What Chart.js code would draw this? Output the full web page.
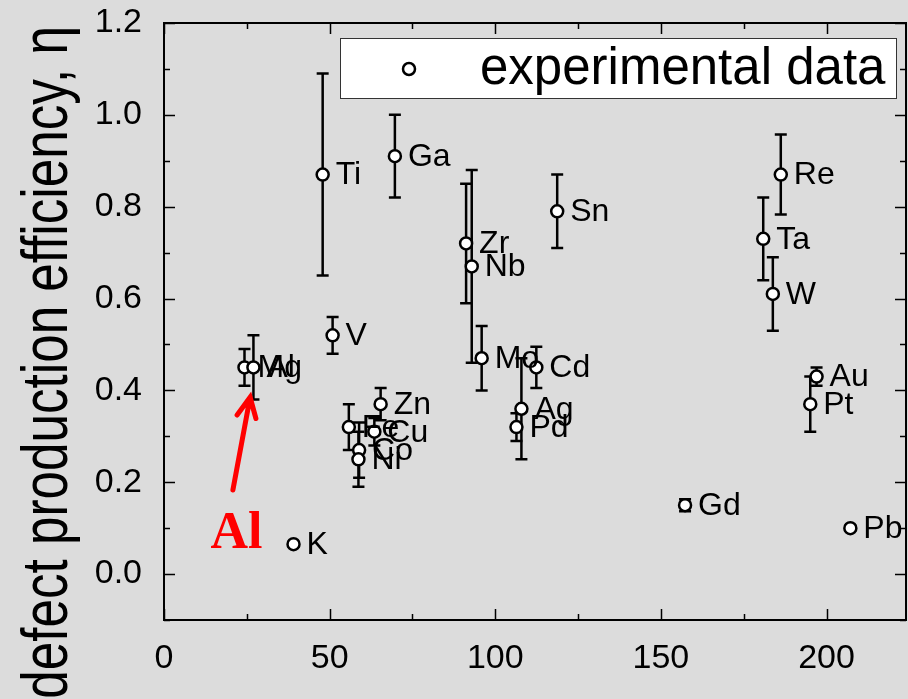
<!DOCTYPE html>
<html>
<head>
<meta charset="utf-8">
<script src="https://cdn.jsdelivr.net/npm/chart.js@4.4.1/dist/chart.umd.min.js"></script>
<style>
  html, body { margin: 0; padding: 0; background: #dcdcdc; }
  #wrap { width: 908px; height: 699px; }
</style>
</head>
<body>
<div id="wrap"><canvas id="myChart" width="908" height="699"></canvas></div>
<script>
/*-------------------------
 data
--------------------------*/
var elements = ["Mg", "Al", "K", "Ti", "V", "Fe", "Co", "Ni", "Cu", "Zn", "Ga", "Zr", "Nb", "Mo", "Pd", "Ag", "Cd", "Sn", "Gd", "Ta", "W", "Re", "Pt", "Au", "Pb"];
var mass = [24.3, 27.0, 39.1, 47.9, 50.9, 55.8, 58.9, 58.7, 63.5, 65.4, 69.7, 91.2, 92.9, 95.9, 106.4, 107.9, 112.4, 118.7, 157.3, 180.9, 183.8, 186.2, 195.1, 197.0, 207.2];
var eta = [0.45, 0.45, 0.065, 0.87, 0.52, 0.32, 0.27, 0.25, 0.31, 0.37, 0.91, 0.72, 0.67, 0.47, 0.32, 0.36, 0.45, 0.79, 0.15, 0.73, 0.61, 0.87, 0.37, 0.43, 0.10];
var etaErr = [0.04, 0.07, 0.005, 0.22, 0.04, 0.05, 0.06, 0.06, 0.03, 0.035, 0.09, 0.13, 0.21, 0.07, 0.03, 0.11, 0.045, 0.08, 0.013, 0.09, 0.08, 0.087, 0.06, 0.02, 0.005];
var xTicks = [0, 50, 100, 150, 200];
var yTicks = [0.0, 0.2, 0.4, 0.6, 0.8, 1.0, 1.2];
var legendLabel = "experimental data";
var yTitle = "defect production efficiency, \u03b7";

var points = mass.map(function (m, i) {
  return { x: m, y: eta[i] };
});

var FONT = "'Liberation Sans', Arial, sans-serif";

/*-------------------------
 error bars, frame, labels
--------------------------*/
var decor = {
  id: "decor",
  beforeDatasetsDraw: function (chart) {
    var ctx = chart.ctx;
    var xs = chart.scales.x, ys = chart.scales.y;
    ctx.save();
    ctx.strokeStyle = "#000";
    ctx.lineWidth = 2.5;
    points.forEach(function (p, i) {
      var px = xs.getPixelForValue(p.x);
      var top = ys.getPixelForValue(p.y + etaErr[i]);
      var bot = ys.getPixelForValue(p.y - etaErr[i]);
      ctx.beginPath();
      ctx.moveTo(px, top); ctx.lineTo(px, bot);
      ctx.moveTo(px - 6, top); ctx.lineTo(px + 6, top);
      ctx.moveTo(px - 6, bot); ctx.lineTo(px + 6, bot);
      ctx.stroke();
    });
    ctx.restore();
  },
  afterDatasetsDraw: function (chart) {
    var ctx = chart.ctx;
    var a = chart.chartArea;
    var xs = chart.scales.x, ys = chart.scales.y;
    ctx.save();

    // frame with inward ticks on all sides
    ctx.strokeStyle = "#000";
    ctx.lineWidth = 2;
    ctx.strokeRect(a.left, a.top, a.right - a.left, a.bottom - a.top);
    ctx.beginPath();
    for (var v = 0; v <= xs.max; v += 25) {
      var px = Math.round(xs.getPixelForValue(v)) + 0.5;
      var len = (v % 50 === 0) ? 11 : 6;
      ctx.moveTo(px, a.bottom); ctx.lineTo(px, a.bottom - len);
      ctx.moveTo(px, a.top); ctx.lineTo(px, a.top + len);
    }
    for (var k = -1; k <= 12; k++) {
      var py = Math.round(ys.getPixelForValue(k / 10)) + 0.5;
      var len2 = (k % 2 === 0) ? 11 : 6;
      ctx.moveTo(a.left, py); ctx.lineTo(a.left + len2, py);
      ctx.moveTo(a.right, py); ctx.lineTo(a.right - len2, py);
    }
    ctx.lineWidth = 1.5;
    ctx.stroke();

    // element labels
    ctx.fillStyle = "#000";
    ctx.font = "32px " + FONT;
    ctx.textAlign = "left";
    ctx.textBaseline = "middle";
    points.forEach(function (p, i) {
      ctx.fillText(elements[i], xs.getPixelForValue(p.x) + 13, ys.getPixelForValue(p.y) + 1);
    });

    // legend box
    ctx.fillStyle = "#fff";
    ctx.fillRect(340, 38, 556, 60);
    ctx.strokeStyle = "#333";
    ctx.lineWidth = 1;
    ctx.strokeRect(340.5, 38.5, 556, 60);
    ctx.beginPath();
    ctx.arc(409, 69, 6, 0, Math.PI * 2);
    ctx.lineWidth = 2.5;
    ctx.strokeStyle = "#000";
    ctx.stroke();
    ctx.fillStyle = "#000";
    ctx.font = "51px " + FONT;
    ctx.textBaseline = "middle";
    ctx.fillText(legendLabel, 480, 70);

    // red arrow pointing at Al
    var tx = xs.getPixelForValue(26.0), ty = ys.getPixelForValue(0.385);
    var sx = xs.getPixelForValue(20.8), sy = ys.getPixelForValue(0.183);
    var ang = Math.atan2(ty - sy, tx - sx);
    ctx.strokeStyle = "#ff0000";
    ctx.lineWidth = 5;
    ctx.lineCap = "round";
    ctx.beginPath();
    ctx.moveTo(sx, sy); ctx.lineTo(tx, ty);
    ctx.moveTo(tx - 22 * Math.cos(ang - 0.45), ty - 22 * Math.sin(ang - 0.45));
    ctx.lineTo(tx, ty);
    ctx.lineTo(tx - 22 * Math.cos(ang + 0.45), ty - 22 * Math.sin(ang + 0.45));
    ctx.stroke();
    ctx.fillStyle = "#ff0000";
    ctx.font = "bold 52px 'Liberation Serif', 'Times New Roman', serif";
    ctx.textBaseline = "alphabetic";
    ctx.fillText("Al", xs.getPixelForValue(14.0), ys.getPixelForValue(0.057));

    // y axis title (condensed)
    ctx.fillStyle = "#000";
    ctx.translate(67, 26);
    ctx.rotate(-Math.PI / 2);
    ctx.scale(0.8, 1);
    ctx.font = "64px " + FONT;
    ctx.textAlign = "right";
    ctx.textBaseline = "alphabetic";
    ctx.fillText(yTitle, 0, 0);

    ctx.restore();
  }
};

var ctx = document.getElementById("myChart").getContext("2d");
var myChart = new Chart(ctx, {
  type: "scatter",
  data: {
    datasets: [{
      label: legendLabel,
      data: points,
      pointStyle: "circle",
      pointRadius: 6,
      pointBorderWidth: 2.5,
      pointBackgroundColor: "#fff",
      pointBorderColor: "#000"
    }]
  },
  options: {
    responsive: false,
    animation: false,
    layout: { autoPadding: false, padding: { left: 0, right: 2, top: 23, bottom: 0 } },
    plugins: {
      legend: { display: false },
      tooltip: { enabled: false }
    },
    scales: {
      x: {
        type: "linear",
        min: 0,
        max: 224,
        grid: { display: false },
        border: { display: false },
        afterBuildTicks: function (s) { s.ticks = xTicks.map(function (v) { return { value: v }; }); },
        afterFit: function (s) { s.height = 79; s.paddingLeft = 0; s.paddingRight = 0; },
        ticks: { color: "#000", font: { family: FONT, size: 34 }, padding: 10, maxRotation: 0, autoSkip: false }
      },
      y: {
        min: -0.1,
        max: 1.2,
        grid: { display: false },
        border: { display: false },
        afterBuildTicks: function (s) { s.ticks = yTicks.map(function (v) { return { value: v }; }); },
        afterFit: function (s) { s.width = 164; s.paddingTop = 0; s.paddingBottom = 0; },
        ticks: {
          color: "#000", font: { family: FONT, size: 34 }, padding: 14, autoSkip: false,
          callback: function (v) { return Number(v).toFixed(1); }
        }
      }
    }
  },
  plugins: [decor]
});
</script>
</body>
</html>
